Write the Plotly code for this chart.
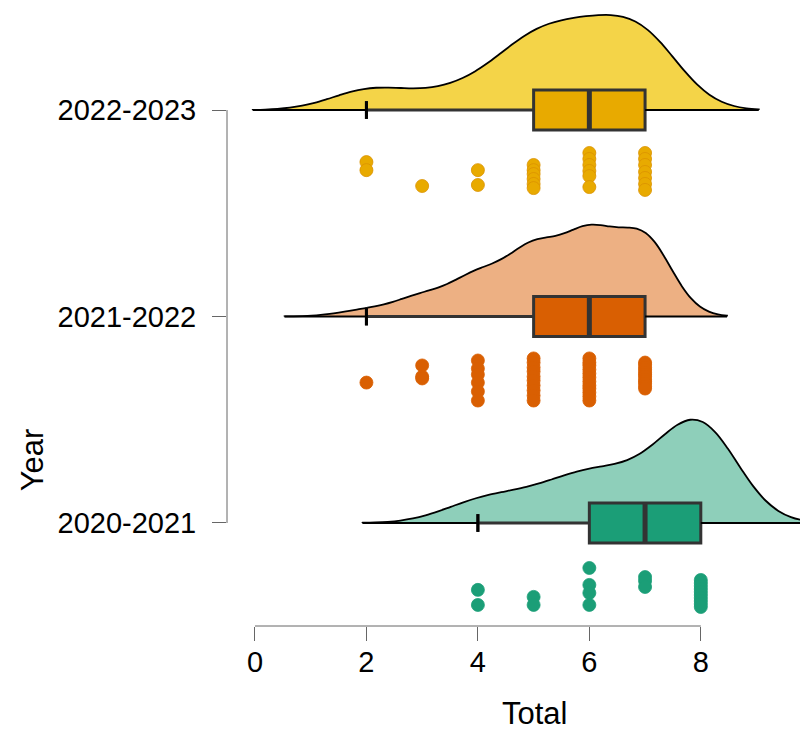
import numpy as np
import plotly.graph_objects as go

# ---------------- data ----------------
years = ["2020-2021", "2021-2022", "2022-2023"]

total_2020 = [4, 4, 5, 5, 6, 6, 6, 6, 7, 7, 7,
              8, 8, 8, 8, 8, 8, 8, 8, 8, 8]
jitter_2020 = [0.324, 0.397, 0.358, 0.397, 0.218, 0.300, 0.339, 0.397, 0.262, 0.281, 0.310,
               0.276, 0.291, 0.305, 0.320, 0.334, 0.349, 0.363, 0.378, 0.392, 0.407]

total_2021 = [2, 3, 3, 3, 4, 4, 4, 4, 4, 4,
              5, 5, 5, 5, 5, 5, 5, 5, 5, 5,
              6, 6, 6, 6, 6, 6, 6, 6, 6, 6, 6, 6,
              7, 7, 7, 7, 7, 7, 7, 7, 7, 7, 7, 7]
jitter_2021 = [0.320, 0.237, 0.291, 0.300, 0.213, 0.252, 0.281, 0.320, 0.363, 0.407,
               0.203, 0.223, 0.247, 0.266, 0.291, 0.310, 0.334, 0.358, 0.383, 0.407,
               0.203, 0.223, 0.237, 0.257, 0.276, 0.295, 0.315, 0.334, 0.349, 0.368, 0.387, 0.407,
               0.223, 0.232, 0.247, 0.257, 0.271, 0.281, 0.291, 0.305, 0.315, 0.324, 0.339, 0.349]

total_2022 = [2, 2, 3, 4, 4, 5, 5, 5, 5, 5, 5,
              6, 6, 6, 6, 6, 6, 7, 7, 7, 7, 7, 7, 7]
jitter_2022 = [0.252, 0.291, 0.368, 0.291, 0.363, 0.266, 0.291, 0.310, 0.334, 0.358, 0.378,
               0.208, 0.237, 0.266, 0.295, 0.320, 0.373, 0.208, 0.237, 0.266, 0.300, 0.329, 0.358, 0.387]

groups = [total_2020, total_2021, total_2022]
jitters = [jitter_2020, jitter_2021, jitter_2022]

# kernel bandwidths of the clouds
bandwidths = [0.69, 0.49, 0.68]

x_ticks = [0, 2, 4, 6, 8]

# ---------------- style ----------------
cloud_colors = ["#8ECFBA", "#EDB083", "#F4D448"]
box_colors = ["#1B9E77", "#D95F02", "#E8AA00"]
dot_edges = ["#1B9E77", "#D95F02", "#DB9200"]
cloud_widths = [1.0, 0.89, 0.92]
BOX_W = 0.194
FONT = "Liberation Sans, Arial, sans-serif"

fig = go.Figure()

for i, (vals, jit) in enumerate(zip(groups, jitters)):
    v = np.asarray(vals, float)
    bw = bandwidths[i]
    span = [v.min() - 3 * bw, v.max() + 3 * bw]
    q1, med, q3 = np.percentile(v, [25, 50, 75])
    iqr = q3 - q1
    lo = v[v >= q1 - 1.5 * iqr].min()
    hi = v[v <= q3 + 1.5 * iqr].max()

    fig.add_trace(go.Violin(
        x=v, y0=i, orientation="h", side="positive",
        bandwidth=bw, spanmode="manual", span=span,
        scalemode="width", width=cloud_widths[i],
        points=False, box_visible=False, meanline_visible=False,
        fillcolor=cloud_colors[i], line=dict(color="black", width=1.8),
        opacity=1, hoverinfo="skip", showlegend=False,
    ))

    fig.add_trace(go.Box(
        y=[i], q1=[q1], median=[med], q3=[q3],
        lowerfence=[lo], upperfence=[hi],
        orientation="h", width=BOX_W, whiskerwidth=0.45,
        fillcolor=box_colors[i], line=dict(color="#333333", width=3),
        boxpoints=False, hoverinfo="skip", showlegend=False,
    ))

    # baseline of the cloud outside the whiskers
    fig.add_trace(go.Scatter(
        x=[span[0], lo, None, hi, span[1]], y=[i, i, None, i, i],
        mode="lines", line=dict(color="black", width=2),
        hoverinfo="skip", showlegend=False,
    ))

    # lower whisker cap in black
    fig.add_trace(go.Scatter(
        x=[lo, lo], y=[i - BOX_W * 0.22, i + BOX_W * 0.22],
        mode="lines", line=dict(color="black", width=3),
        hoverinfo="skip", showlegend=False,
    ))

    # thick median line
    fig.add_trace(go.Scatter(
        x=[med, med], y=[i - BOX_W / 2, i + BOX_W / 2],
        mode="lines", line=dict(color="#333333", width=5),
        hoverinfo="skip", showlegend=False,
    ))

    # rain (points)
    fig.add_trace(go.Scatter(
        x=v, y=i - np.asarray(jit), mode="markers",
        marker=dict(size=13, color=box_colors[i],
                    line=dict(color=dot_edges[i], width=0.8)),
        hoverinfo="skip", showlegend=False,
    ))

axis_common = dict(
    ticks="outside", ticklen=14, tickwidth=1, tickcolor="#666666",
    showline=False, showgrid=False, zeroline=False, automargin=False,
    tickfont=dict(family=FONT, size=29, color="black"),
)

fig.update_layout(
    width=800, height=731,
    margin=dict(l=227, r=0, t=0, b=105, autoexpand=False),
    plot_bgcolor="white", paper_bgcolor="white",
    showlegend=False, violinmode="overlay", boxmode="overlay",
    hovermode=False,
    xaxis=dict(range=[-0.502, 9.78], tickvals=x_ticks,
               ticklabelstandoff=-4, **axis_common),
    yaxis=dict(range=[-0.499, 2.533], tickvals=[0, 1, 2], ticktext=years,
               ticklabelstandoff=10, **axis_common),
    shapes=[
        dict(type="line", xref="x", yref="paper", x0=x_ticks[0], x1=x_ticks[-1],
             y0=0, y1=0, line=dict(color="#666666", width=1)),
        dict(type="line", xref="paper", yref="y", x0=0, x1=0,
             y0=0, y1=len(years) - 1, line=dict(color="#666666", width=1)),
    ],
    annotations=[
        dict(text="Total", xref="paper", yref="paper", x=0.536, y=-0.139,
             showarrow=False, font=dict(family=FONT, size=31, color="black"),
             xanchor="center", yanchor="middle"),
        dict(text="Year", xref="paper", yref="paper", x=-0.34, y=0.265,
             showarrow=False, textangle=-90,
             font=dict(family=FONT, size=31, color="black"),
             xanchor="center", yanchor="middle"),
    ],
)

fig.write_html("out.html", config={"displayModeBar": False},
               post_script="document.body.style.margin='0';")
